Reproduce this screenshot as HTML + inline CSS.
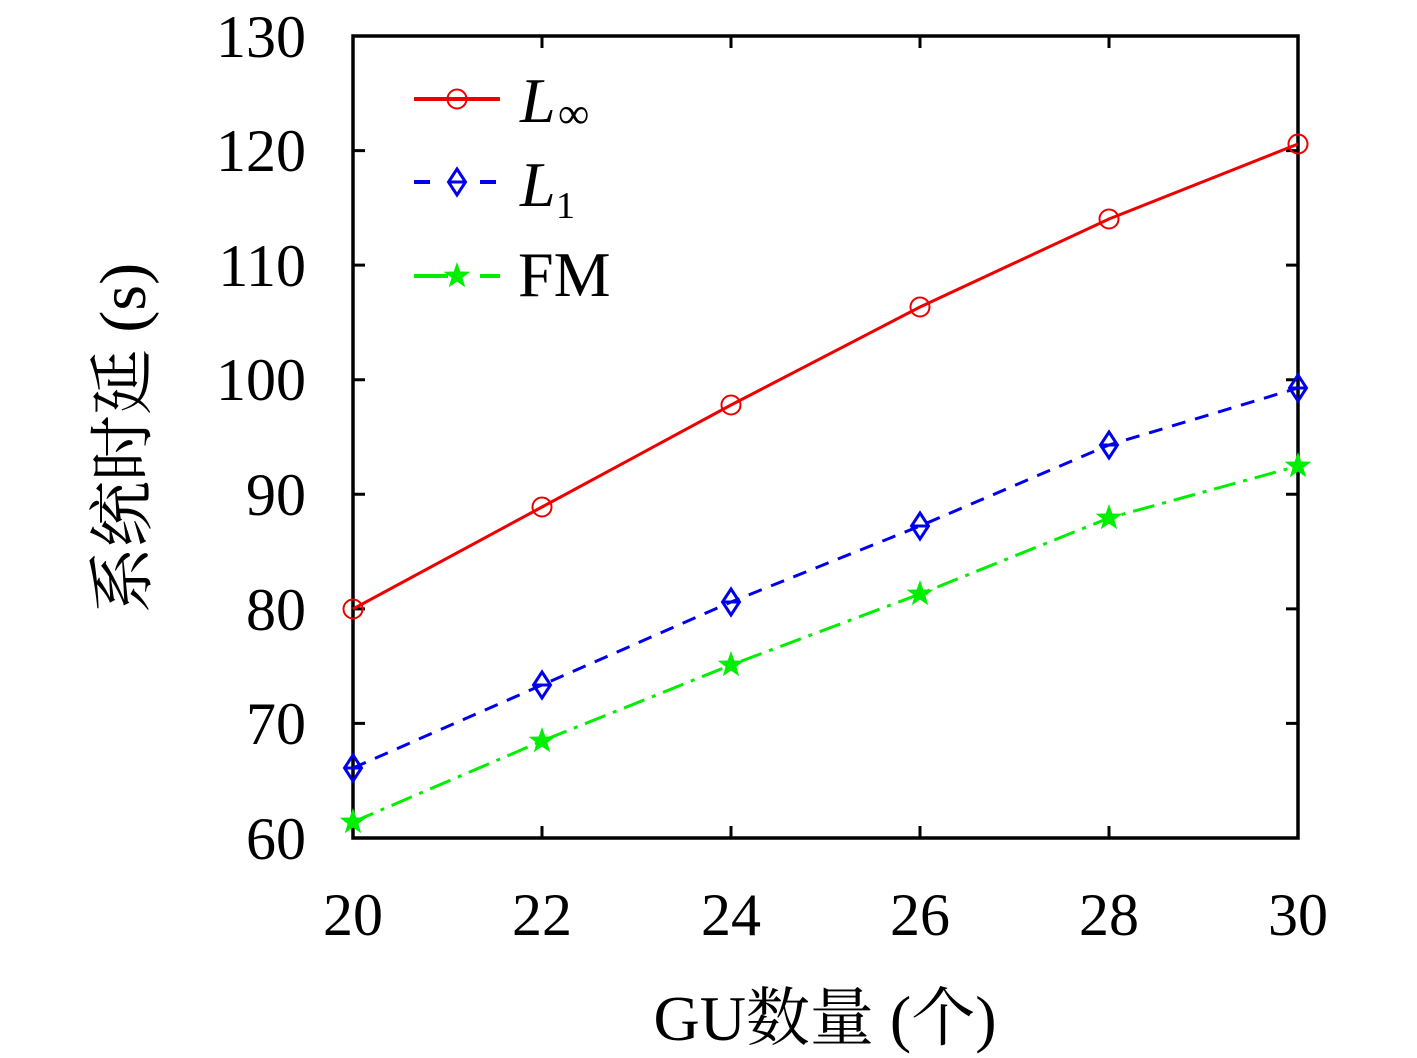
<!DOCTYPE html>
<html><head><meta charset="utf-8"><style>body{margin:0;background:#fff}svg{display:block}</style></head><body>
<svg width="1417" height="1058" xmlns="http://www.w3.org/2000/svg" font-family="Liberation Serif, 'Noto Serif CJK SC', serif">
<defs>
<g id="c"><circle r="9.5" fill="none" stroke="#e00" stroke-width="2"/></g>
<g id="d"><path d="M0,-13 L8.5,0 L0,13 L-8.5,0 Z M-8.5,0 L8.5,0" fill="none" stroke="#00e" stroke-width="3"/></g>
<g id="s"><path d="M0,-14 L3.3,-4.5 L13.3,-4.3 L5.4,1.7 L8.2,11.3 L0,5.6 L-8.2,11.3 L-5.4,1.7 L-13.3,-4.3 L-3.3,-4.5 Z" fill="#0e0"/></g>
</defs>
<rect x="353" y="36" width="945" height="802" fill="none" stroke="#000" stroke-width="3.5"/>
<g stroke="#000" stroke-width="3">
<path d="M353,150.6h12M353,265.1h12M353,379.7h12M353,494.3h12M353,608.9h12M353,723.4h12M1298,150.6h-12M1298,265.1h-12M1298,379.7h-12M1298,494.3h-12M1298,608.9h-12M1298,723.4h-12"/>
<path d="M542,838v-12M731,838v-12M920,838v-12M1109,838v-12M542,36v12M731,36v12M920,36v12M1109,36v12"/>
</g>
<g font-size="60" text-anchor="end">
<text x="306" y="57">130</text><text x="306" y="171">120</text><text x="306" y="286">110</text><text x="306" y="400">100</text><text x="306" y="515">90</text><text x="306" y="630">80</text><text x="306" y="744">70</text><text x="306" y="859">60</text>
</g>
<g font-size="60" text-anchor="middle">
<text x="353" y="935">20</text><text x="542" y="935">22</text><text x="731" y="935">24</text><text x="920" y="935">26</text><text x="1109" y="935">28</text><text x="1298" y="935">30</text>
</g>
<text x="825" y="1040" font-size="64" text-anchor="middle">GU数量 (个)</text>
<text transform="translate(145,438) rotate(-90)" font-size="66" text-anchor="middle">系统时延 (s)</text>
<polyline points="353,609 542,507 731,405 920,307 1109,219 1298,144" fill="none" stroke="#e00" stroke-width="3"/>
<polyline points="353,768 542,685 731,602 920,526 1109,445 1298,388" fill="none" stroke="#00e" stroke-width="3" stroke-dasharray="14,10"/>
<polyline points="353,822 542,741 731,665 920,594 1109,518 1298,466" fill="none" stroke="#0e0" stroke-width="3" stroke-dasharray="22,8,4,8"/>
<use href="#c" x="353" y="609"/><use href="#c" x="542" y="507"/><use href="#c" x="731" y="405"/><use href="#c" x="920" y="307"/><use href="#c" x="1109" y="219"/><use href="#c" x="1298" y="144"/>
<use href="#d" x="353" y="768"/><use href="#d" x="542" y="685"/><use href="#d" x="731" y="602"/><use href="#d" x="920" y="526"/><use href="#d" x="1109" y="445"/><use href="#d" x="1298" y="388"/>
<use href="#s" x="353" y="822"/><use href="#s" x="542" y="741"/><use href="#s" x="731" y="665"/><use href="#s" x="920" y="594"/><use href="#s" x="1109" y="518"/><use href="#s" x="1298" y="466"/>
<path d="M414,99H500" stroke="#e00" stroke-width="4"/><use href="#c" x="457" y="99"/>
<path d="M414,182H430M480,182H496" stroke="#00e" stroke-width="4"/><use href="#d" x="457" y="182"/>
<path d="M414,276H448M480,276H500" stroke="#0e0" stroke-width="4"/><use href="#s" x="457" y="276"/>
<g font-size="64">
<text x="520" y="122" font-style="italic">L</text><text x="558" y="128" font-size="44">∞</text>
<text x="520" y="206" font-style="italic">L</text><text x="556" y="218" font-size="38">1</text>
<text x="518" y="296">FM</text>
</g>
</svg>
</body></html>
